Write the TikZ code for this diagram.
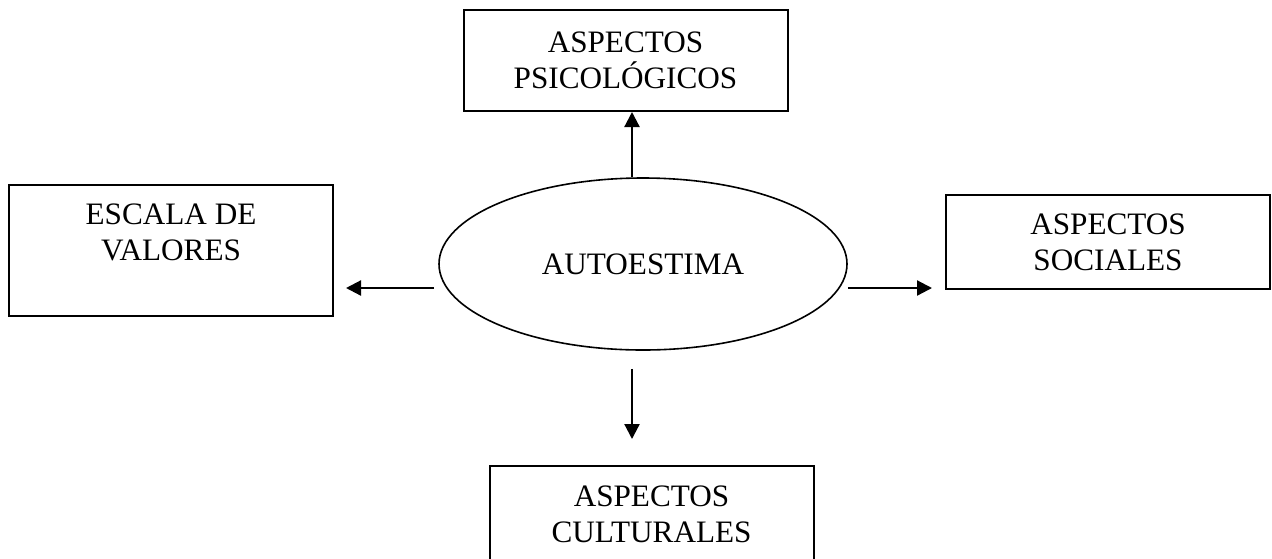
\documentclass[tikz,border=0pt]{standalone}
\usepackage{fontspec}
\setmainfont{Liberation Serif}
\usepackage{tikz}
\usetikzlibrary{arrows.meta,shapes.geometric}
\usetikzlibrary{calc}

\begin{document}
\begin{tikzpicture}[
  x=0.5pt, y=-0.5pt,
  box/.style={draw, line width=1pt, align=center, minimum width=162pt, inner sep=2pt,
    font=\fontsize{15.6}{18}\selectfont},
  elli/.style={draw, ellipse, line width=0.8pt, minimum width=204pt, minimum height=86pt,
    inner sep=0pt, font=\fontsize{15.6}{18}\selectfont},
  arr/.style={-{Triangle[length=7.5pt,width=7.5pt]}, line width=1.1pt}
]
  \useasboundingbox (0,0) rectangle (1272,558);

  % centre
  \node[elli] (auto) at (643,264) {\raisebox{-4.5pt}{AUTOESTIMA}};

  % boxes round it
  \node[box, minimum height=50.5pt] (psico) at (625.5,60.5) {ASPECTOS\\PSICOLÓGICOS};
  \node[box, minimum height=65.5pt] (escala) at (171,250.5) {ESCALA DE\\VALORES\\~};
  \node[box, minimum height=47pt] (social) at (1108,242) {\raisebox{-2pt}{ASPECTOS}\\\raisebox{-2pt}{SOCIALES}};
  \node[box, minimum height=48pt] (cultura) at (651.5,514) {ASPECTOS\\CULTURALES};

  \draw[arr] ($(auto.north)+(-5.5pt,0)$) -- ($(auto.north|-psico.south)+(-5.5pt,0)$);
  \draw[arr] ($(auto.west)+(-2pt,-12pt)$) -- ($(escala.east|-auto.west)+(6pt,-12pt)$);
  \draw[arr] ($(auto.east)+(0,-12pt)$) -- ($(social.west|-auto.east)+(-6.5pt,-12pt)$);
  \draw[arr] ($(auto.south)+(-5.5pt,-9pt)$) -- ($(auto.south|-cultura.north)+(-5.5pt,13pt)$);
\end{tikzpicture}
\end{document}
